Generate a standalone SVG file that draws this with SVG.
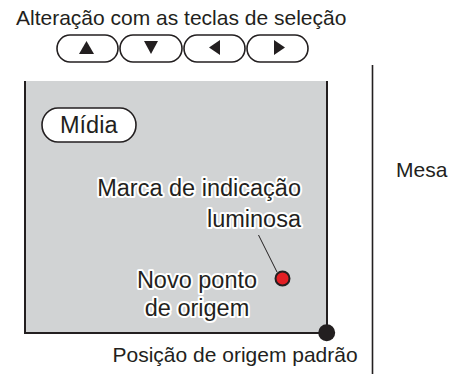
<svg xmlns="http://www.w3.org/2000/svg" width="451" height="374" viewBox="0 0 451 374">
<style>
text{font-family:"Liberation Sans",Arial,sans-serif;fill:#231f20}
.t21{font-size:21px}
.t24{font-size:23.5px}
.halo{stroke:#fff;stroke-width:4px;stroke-linejoin:round;paint-order:stroke fill}
.btn{fill:#fff;stroke:#231f20;stroke-width:1.6}
.tri{fill:#231f20}
.edge{stroke:#231f20;stroke-width:2;fill:none}
</style>
<g id="table-side">
<line x1="372.5" y1="65" x2="372.5" y2="374" stroke="#231f20" stroke-width="1.6"/>
<text class="t21" x="396" y="177">Mesa</text>
</g>
<g id="media">
<rect x="25" y="81" width="302" height="252" fill="#d1d3d4"/>
<path class="edge" d="M25,81 V333 H327 V81"/>
</g>
<g id="title">
<text class="t21" x="16" y="25">Alteração com as teclas de seleção</text>
</g>
<g id="keys">
<rect class="btn" x="57" y="35" width="61" height="27" rx="13" ry="13.5"/>
<rect class="btn" x="120" y="35" width="62" height="27" rx="13" ry="13.5"/>
<rect class="btn" x="184" y="35" width="61" height="27" rx="13" ry="13.5"/>
<rect class="btn" x="247" y="35" width="61" height="27" rx="13" ry="13.5"/>
<polygon class="tri" points="79,54 94,54 86.5,41"/>
<polygon class="tri" points="144,41 158,41 151,54"/>
<polygon class="tri" points="220,40 220,55 209,47.5"/>
<polygon class="tri" points="274,40 274,55 285,47.5"/>
</g>
<g id="midia-label">
<rect x="42" y="108" width="94" height="34" rx="16" ry="17" fill="#fff" stroke="#231f20" stroke-width="1.6"/>
<text class="t24" x="60" y="133">Mídia</text>
</g>
<g id="connectors">
<line x1="258.5" y1="235" x2="277" y2="272" stroke="#231f20" stroke-width="1"/>
</g>
<g id="light-mark">
<text class="t24 halo" x="301" y="195.5" text-anchor="end">Marca de indicação</text>
<text class="t24 halo" x="301" y="226.5" text-anchor="end">luminosa</text>
</g>
<g id="new-origin">
<circle cx="282.5" cy="278.5" r="7" fill="#e31e24" stroke="#231f20" stroke-width="2"/>
<text class="t24 halo" x="197" y="288" text-anchor="middle">Novo ponto</text>
<text class="t24 halo" x="197" y="316" text-anchor="middle">de origem</text>
</g>
<g id="default-origin">
<circle cx="326.7" cy="332.7" r="8.5" fill="#231f20"/>
<text class="t21" x="112.5" y="362">Posição de origem padrão</text>
</g>
</svg>
